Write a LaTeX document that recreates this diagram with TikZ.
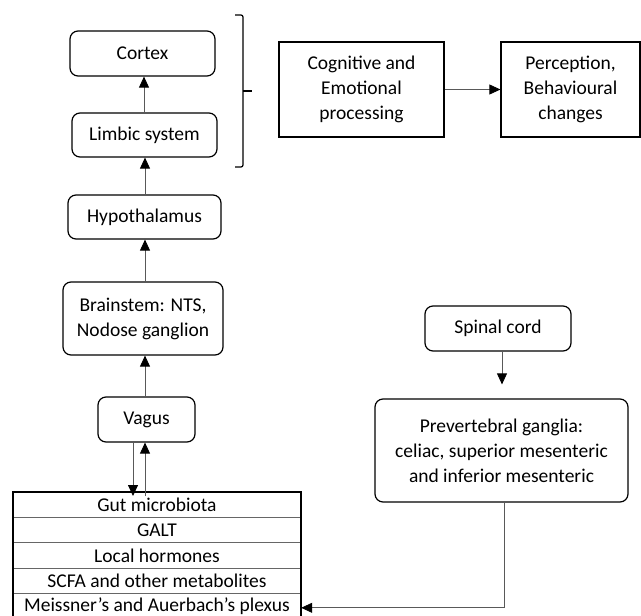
\documentclass[tikz,border=0pt]{standalone}
\usepackage{fontspec}
\setmainfont{Carlito}
\usetikzlibrary{arrows.meta,calc}
\begin{document}
\begin{tikzpicture}[x=1pt,y=-1pt,
  font=\fontsize{19.5}{25}\selectfont,
  rbox/.style={draw=black,line width=1.2pt,rounded corners=8pt,align=center,inner sep=0pt},
  sbox/.style={draw=black,line width=1.2pt,align=center,inner sep=0pt},
  row/.style={minimum width=288pt,minimum height=25pt,inner sep=0pt,anchor=north},
  arr/.style={draw=black!65,line width=0.8pt,-{Triangle[length=11pt,width=10pt,black]}},
  brk/.style={draw=black,line width=1.2pt}]
\useasboundingbox (0,0) rectangle (641,616);
% left column
\node[rbox,minimum width=145pt,minimum height=45pt] (cortex) at (142.5,53.5) {Cortex};
\node[rbox,minimum width=145pt,minimum height=44pt] (limbic) at (144.5,135) {Limbic system};
\node[rbox,minimum width=153pt,minimum height=44pt] (hypo) at (144.5,217) {Hypothalamus};
\node[rbox,minimum width=160pt,minimum height=73pt] (brain) at (143,318.5) {Brainstem: NTS,\\Nodose ganglion};
\node[rbox,minimum width=97pt,minimum height=45pt] (vagus) at (146.5,419.5) {Vagus};
% right column
\node[sbox,minimum width=165pt,minimum height=95pt] (cog) at (361.5,89.5) {Cognitive and\\Emotional\\processing};
\node[sbox,minimum width=139pt,minimum height=95pt] (perc) at (570.5,89.5) {Perception,\\Behavioural\\changes};
\node[rbox,minimum width=146pt,minimum height=45pt] (spinal) at (498,328.5) {Spinal cord};
\node[rbox,minimum width=253pt,minimum height=103pt] (prev) at (501.5,450.5) {Prevertebral ganglia:\\celiac, superior mesenteric\\and inferior mesenteric};
% gut table
\node[row] (g1) at (157,492) {Gut microbiota};
\node[row] (g2) at (g1.south) {GALT};
\node[row] (g3) at (g2.south) {Local hormones};
\node[row] (g4) at (g3.south) {SCFA and other metabolites};
\node[row,minimum height=24pt] (g5) at (g4.south) {Meissner’s and Auerbach’s plexus};
\foreach \r in {g1,g2,g3,g4}{\draw[black!60,line width=0.7pt] (\r.south west) -- (\r.south east);}
\draw[black,line width=1.6pt] (g5.south west) -- (g1.north west) -- (g1.north east) -- (g5.south east);
\draw[black,line width=0.8pt] (g5.south west) -- (g5.south east);
% bracket
\coordinate (bt) at (243,15);
\coordinate (bb) at (243,167);
\coordinate (bm) at (243,91);
\draw[brk,rounded corners=2pt] ($(bt)+(-8,0)$) -- (bt) -- (bb) -- ($(bb)+(-8,0)$);
\draw[brk] (bm) -- ++(9,0);
% connectors
\draw[arr] (limbic.north -| 144,0) -- (cortex.south -| 144,0);
\draw[arr] (hypo.north -| 145,0) -- (limbic.south -| 145,0);
\draw[arr] (brain.north -| 145,0) -- (hypo.south -| 145,0);
\draw[arr] (vagus.north -| 145,0) -- (brain.south -| 145,0);
\draw[arr] (vagus.south -| 133,0) -- ([yshift=-4pt]g1.north -| 133,0);
\draw[arr] ([yshift=-4pt]g1.north -| 145,0) -- (vagus.south -| 145,0);
\draw[arr] (cog.east) -- (perc.west);
\draw[arr,shorten >=14pt] (spinal.south -| 502,0) -- (prev.north -| 502,0);
\draw[arr] (prev.south -| 504,0) |- ([yshift=-2pt]g5.east);
\end{tikzpicture}
\end{document}
